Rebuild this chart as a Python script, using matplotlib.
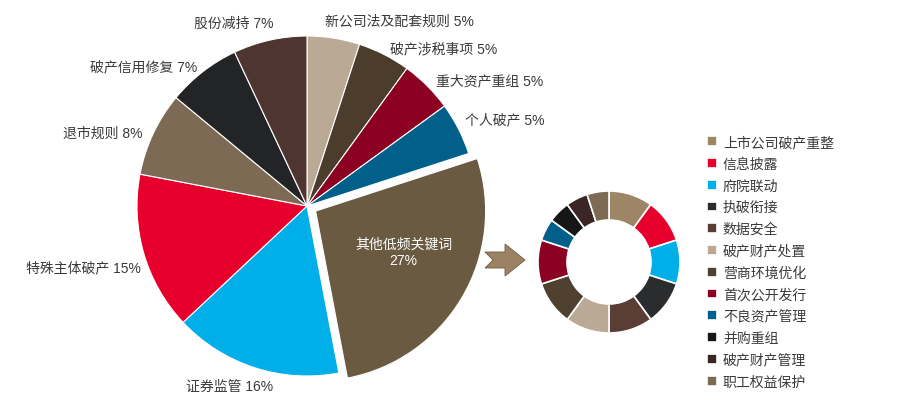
import numpy as np
import matplotlib
matplotlib.use('Agg')
import matplotlib.pyplot as plt
from matplotlib.patches import Polygon

plt.rcParams['font.family'] = ['Liberation Sans', 'Noto Sans CJK SC']

# main pie, clockwise from 12 o'clock
pie_labels = ['新公司法及配套规则', '破产涉税事项', '重大资产重组', '个人破产', '其他低频关键词',
              '证券监管', '特殊主体破产', '退市规则', '破产信用修复', '股份减持']
pie_values = [5, 5, 5, 5, 27, 16, 15, 8, 7, 7]
pie_colors = ['#baa994', '#4b3c2c', '#8c0021', '#00608a', '#6a5a42',
              '#00aee8', '#e8002d', '#7c6a55', '#222426', '#4e3530']

# breakdown of "其他低频关键词"
ring_labels = ['上市公司破产重整', '信息披露', '府院联动', '执破衔接', '数据安全', '破产财产处置',
               '营商环境优化', '首次公开发行', '不良资产管理', '并购重组', '破产财产管理', '职工权益保护']
ring_values = [2, 2, 2, 2, 2, 2, 2, 2, 1, 1, 1, 1]
ring_colors = ['#9d8666', '#e8002d', '#00aee8', '#2a2c2e', '#5a3e36', '#baa994',
               '#4f402f', '#8c0021', '#00608a', '#161616', '#3b2626', '#7d6a52']

W, H = 900, 414
PIE_C = (307, 207)
fig = plt.figure(figsize=(W / 100, H / 100), dpi=100)
ax = fig.add_axes([0, 0, 1, 1])

other = pie_labels.index('其他低频关键词')
explode = [10 if i == other else 0 for i in range(len(pie_values))]
texts_in = [f'{l} {v}%' if i != other else '' for i, (l, v) in enumerate(zip(pie_labels, pie_values))]

wedges, texts = ax.pie(pie_values, labels=texts_in, colors=pie_colors, startangle=90,
                       counterclock=False, center=PIE_C, radius=170, explode=explode,
                       labeldistance=1.07, frame=True,
                       wedgeprops=dict(edgecolor='white', linewidth=0.8),
                       textprops=dict(fontsize=10, color='#3a3a3a'))

# pie() aligns labels against x=0, not against the pie centre
for t in texts:
    t.set_ha('left' if t.get_position()[0] > PIE_C[0] else 'right')
texts[pie_labels.index('证券监管')].set_ha('center')

# small nudges so the labels sit where the original has them
nudge = {'新公司法及配套规则': (-10, 6), '破产涉税事项': (0, -4), '股份减持': (6, 6),
         '特殊主体破产': (9, -11), '证券监管': (-21, -7), '破产信用修复': (2, -4),
         '退市规则': (0, -4), '重大资产重组': (0, -3), '个人破产': (-4, 4)}
for lab, t in zip(pie_labels, texts):
    dx, dy = nudge.get(lab, (0, 0))
    x, y = t.get_position()
    t.set_position((x + dx, y + dy))

# label inside the exploded slice
w = wedges[other]
tm = np.deg2rad((w.theta1 + w.theta2) / 2 + 6)
cx, cy = w.center
ax.text(cx + 0.57 * w.r * np.cos(tm), cy + 0.57 * w.r * np.sin(tm), '其他低频关键词\n27%',
        ha='center', va='center', color='white', fontsize=10, linespacing=1.2)

# ring
ring, _ = ax.pie(ring_values, colors=ring_colors, startangle=90, counterclock=False,
                 center=(609, 151), radius=71, frame=True,
                 wedgeprops=dict(width=29, edgecolor='white', linewidth=1.2))
ax.set_xlim(0, W)
ax.set_ylim(0, H)
ax.axis('off')

# arrow
ay = 153
arrow = Polygon([(485, ay + 8), (505, ay + 8), (505, ay + 16), (525, ay), (505, ay - 16),
                 (505, ay - 8), (485, ay - 8), (493, ay)],
                closed=True, facecolor='#9c8163', edgecolor='#6f5b45', linewidth=0.6)
ax.add_patch(arrow)

leg = ax.legend(ring, ring_labels, loc='upper left', bbox_to_anchor=(700 / W, 1 - 129 / H),
                frameon=False, fontsize=10, handlelength=0.7, handleheight=0.7,
                handletextpad=0.45, labelspacing=0.56, borderpad=0)
for t in leg.get_texts():
    t.set_color('#3a3a3a')

fig.savefig('out.png', dpi=100)
